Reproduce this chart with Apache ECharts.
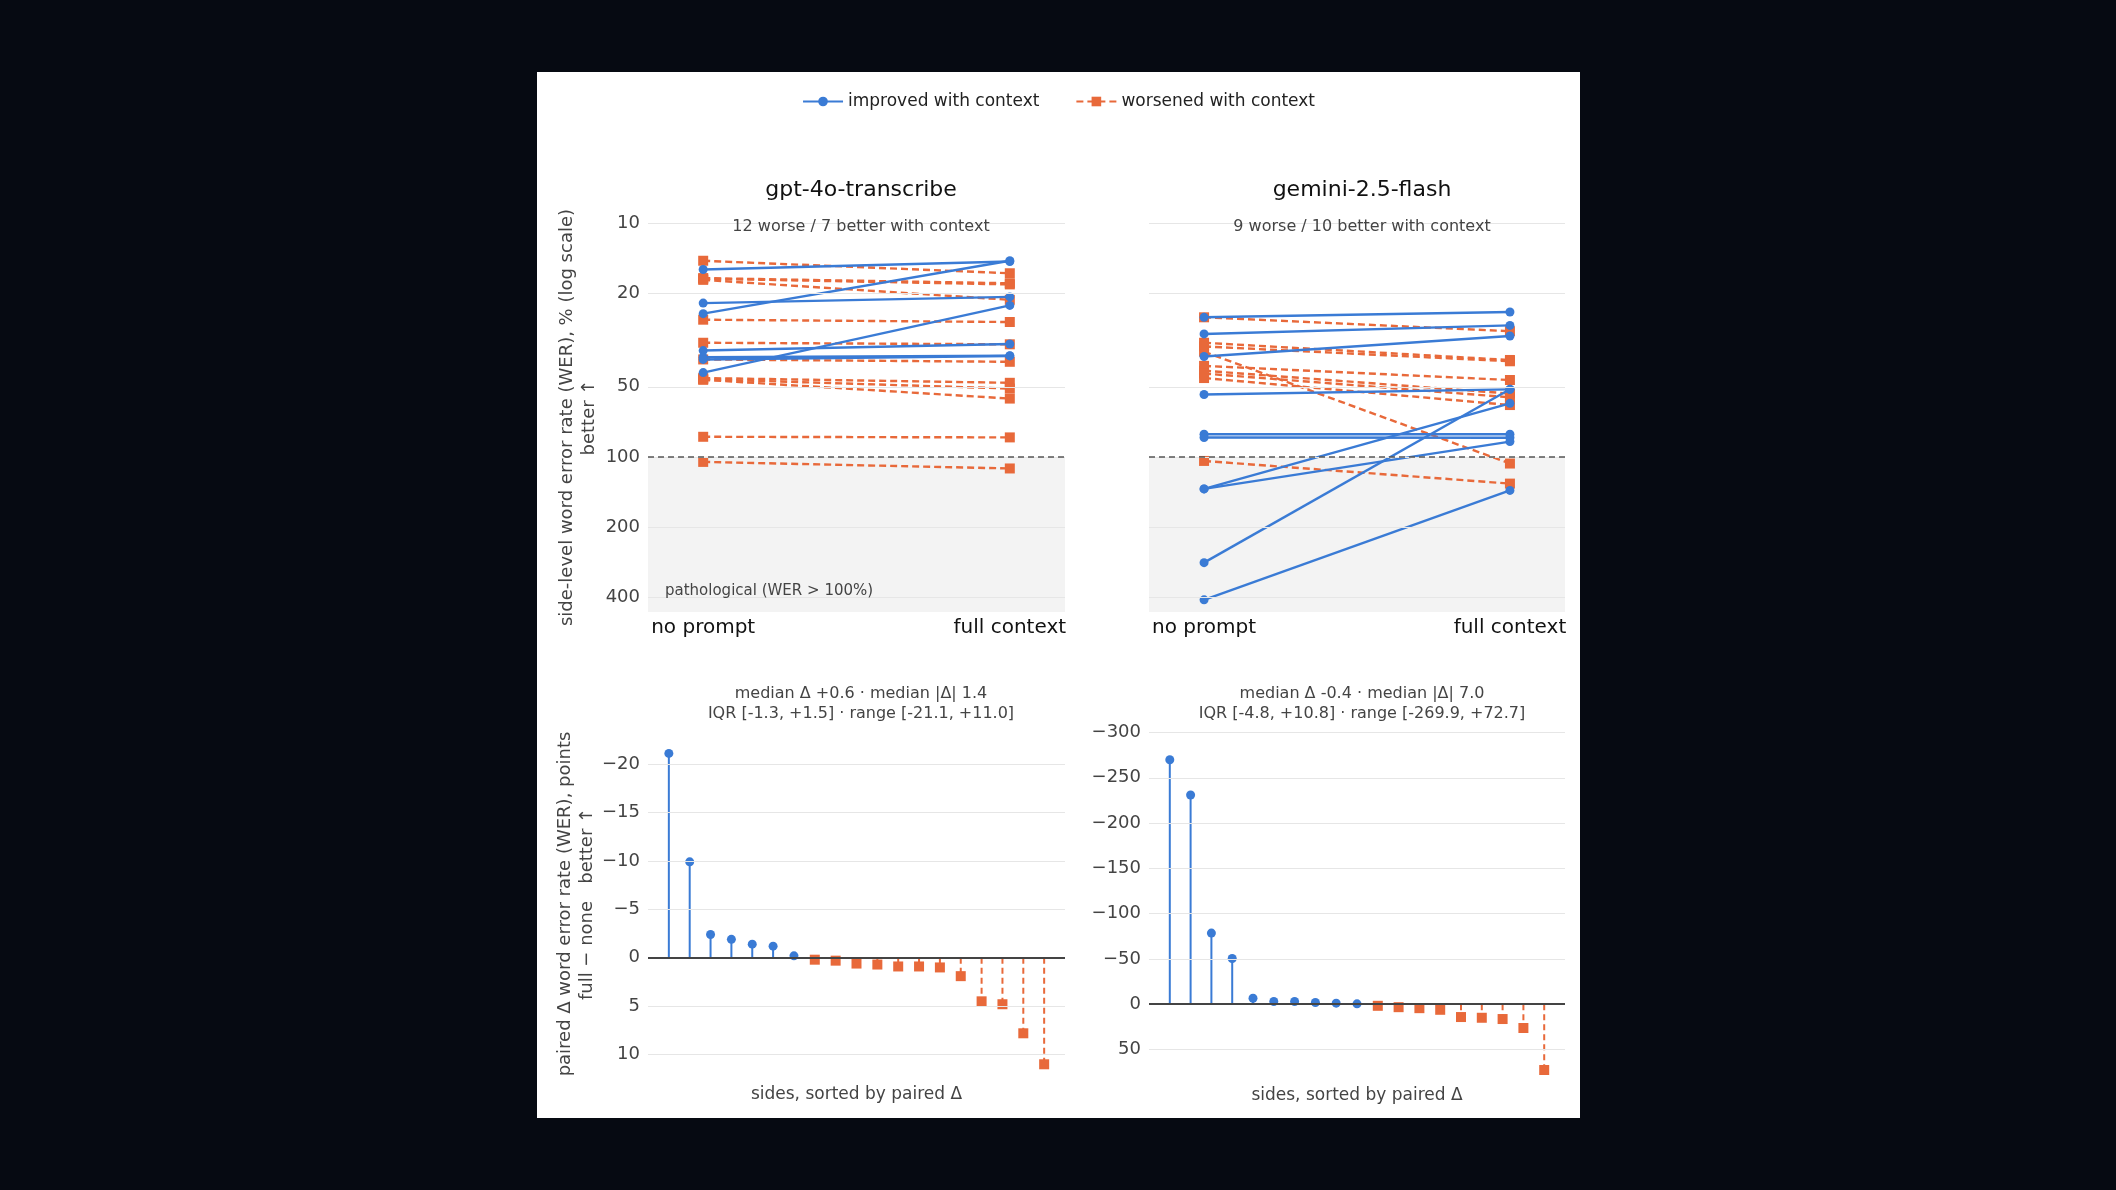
<!DOCTYPE html>
<html><head><meta charset="utf-8">
<script src="https://cdn.jsdelivr.net/npm/echarts@6/dist/echarts.min.js"></script>
<style>html,body{margin:0;background:#060a12;width:2116px;height:1190px;overflow:hidden}
#c{position:absolute;left:537px;top:72px;width:1043px;height:1046px;background:#fff}</style>
</head><body><div id="c"></div>
<script>
// ---- data ----
const gptImprovedNone = [15.8, 24.4, 22.0, 43.6, 35.1, 37.5, 38.3];
const gptImprovedFull = [14.6, 14.5, 20.7, 22.5, 32.9, 36.9, 37.0];
const gptWorsenedNone = [14.5, 17.2, 17.3, 17.5, 25.9, 32.5, 38.3, 46.0, 46.5, 46.8, 82.0, 105];
const gptWorsenedFull = [16.4, 18.1, 18.3, 21.3, 26.5, 33.0, 39.2, 48.2, 51.0, 56.3, 82.5, 112];
const gemImprovedNone = [25.3, 29.8, 37.2, 54.1, 80.0, 82.6, 137, 137, 283, 408];
const gemImprovedFull = [24.0, 27.4, 30.4, 51.4, 80.0, 82.8, 59.0, 86.0, 51.4, 139];
const gemWorsenedNone = [25.3, 32.5, 33.7, 35.5, 40.8, 42.8, 44.0, 46.0, 104];
const gemWorsenedFull = [29.0, 38.5, 39.0, 106.7, 46.9, 53.6, 55.6, 60.0, 130];
const gptDelta = [-21.1, -9.9, -2.4, -1.9, -1.4, -1.2, -0.2, 0.2, 0.3, 0.6, 0.7, 0.9, 0.9, 1.0, 1.9, 4.5, 4.8, 7.8, 11.0];
const gemDelta = [-269.9, -231, -78.5, -50.4, -6.6, -2.9, -2.9, -1.8, -1.1, -0.4, 1.8, 3.3, 4.4, 6.2, 14.2, 15.0, 16.4, 26.3, 72.7];
const conditions = ['no prompt', 'full context'];
const werTicks = [10, 20, 50, 100, 200, 400];
const gptDeltaTicks = [-20, -15, -10, -5, 0, 5, 10];
const gemDeltaTicks = [-300, -250, -200, -150, -100, -50, 0, 50];
const panelTitles = ['gpt-4o-transcribe', 'gemini-2.5-flash'];
const subtitles = ['12 worse / 7 better with context', '9 worse / 10 better with context'];
const statLines = [
  ['median Δ +0.6 · median |Δ| 1.4', 'IQR [-1.3, +1.5] · range [-21.1, +11.0]'],
  ['median Δ -0.4 · median |Δ| 7.0', 'IQR [-4.8, +10.8] · range [-269.9, +72.7]']
];
// ---- chart ----
const BLUE = '#3a7bd5', ORANGE = '#e8693a', F = 'DejaVu Sans';
const L = Math.log10;
const minus = v => (v < 0 ? '\u2212' + Math.abs(v) : String(v));
const grids = [
  {left:111, top:151, width:417, height:389},
  {left:612, top:151, width:416, height:389},
  {left:111, top:663, width:417, height:338},
  {left:612, top:656, width:416, height:345}
];
const xAxes = [0,1].map(i => ({gridIndex:i, type:'value', min:-0.18, max:1.18,
  axisLine:{show:false}, axisTick:{show:false}, splitLine:{show:false},
  axisLabel:{customValues:[0,1], formatter:v => conditions[Math.round(v)], color:'#111', fontSize:20, fontFamily:F, margin:6}
})).concat([2,3].map(i => ({gridIndex:i, type:'value', min:-1, max:19,
  axisLine:{show:false}, axisTick:{show:false}, splitLine:{show:false}, axisLabel:{show:false},
  name:'sides, sorted by paired Δ', nameLocation:'middle', nameGap:i===2?13:14,
  nameTextStyle:{color:'#444', fontSize:17, fontFamily:F}
})));
const yAxes = [
  {gridIndex:0, type:'value', inverse:true, min:1, max:L(460),
   axisLabel:{customValues:werTicks.map(L), formatter:v => String(Math.round(Math.pow(10,v))), color:'#444', fontSize:18, fontFamily:F, margin:8},
   axisLine:{show:false}, axisTick:{show:false}, splitLine:{show:false},
   name:'side-level word error rate (WER), % (log scale)\nbetter ↑', nameLocation:'middle', nameGap:48, nameRotate:90,
   nameTextStyle:{color:'#444', fontSize:18, fontFamily:F, lineHeight:22}},
  {gridIndex:1, type:'value', inverse:true, min:1, max:L(460), axisLabel:{show:false},
   axisLine:{show:false}, axisTick:{show:false}, splitLine:{show:false}},
  {gridIndex:2, type:'value', inverse:true, min:-23, max:11.9,
   axisLabel:{customValues:gptDeltaTicks, formatter:minus, color:'#444', fontSize:18, fontFamily:F, margin:8},
   axisLine:{show:false}, axisTick:{show:false}, splitLine:{show:false},
   name:'paired Δ word error rate (WER), points\nfull − none   better ↑', nameLocation:'middle', nameGap:48, nameRotate:90,
   nameTextStyle:{color:'#444', fontSize:18, fontFamily:F, lineHeight:22}},
  {gridIndex:3, type:'value', inverse:true, min:-305, max:76,
   axisLabel:{customValues:gemDeltaTicks, formatter:minus, color:'#444', fontSize:18, fontFamily:F, margin:8},
   axisLine:{show:false}, axisTick:{show:false}, splitLine:{show:false}}
];
const series = [];
const grid = '#e6e6e6';
function gridSeries(i, vals, extra) {
  series.push({type:'line', xAxisIndex:i, yAxisIndex:i, data:[], silent:true,
    markLine:{silent:true, symbol:'none', label:{show:false}, lineStyle:{color:grid, type:'solid', width:1.2},
      data:vals.map(v => ({yAxis:v})).concat(extra||[])},
    markArea: i<2 ? {silent:true, itemStyle:{color:'#f3f3f3'}, data:[[{yAxis:2},{yAxis:L(460)}]]} : undefined
  });
}
gridSeries(0, werTicks.map(L), [{yAxis:2, lineStyle:{color:'#555', type:[6,4], width:1.5}}]);
gridSeries(1, werTicks.map(L), [{yAxis:2, lineStyle:{color:'#555', type:[6,4], width:1.5}}]);
gridSeries(2, gptDeltaTicks.filter(v=>v!==0), [{yAxis:0, lineStyle:{color:'#444', width:1.8}}]);
gridSeries(3, gemDeltaTicks.filter(v=>v!==0), [{yAxis:0, lineStyle:{color:'#444', width:1.8}}]);
function slopes(i, a, b, improved) {
  a.forEach((v, k) => series.push({type:'line', xAxisIndex:i, yAxisIndex:i,
    name: improved ? 'improved with context' : 'worsened with context',
    data:[[0, L(v)], [1, L(b[k])]], symbol: improved ? 'circle' : 'rect', symbolSize: improved ? 9 : 10,
    itemStyle:{color: improved ? BLUE : ORANGE},
    lineStyle:{color: improved ? BLUE : ORANGE, width:2.4, type: improved ? 'solid' : [7,4]},
    z: improved ? 4 : 3, animation:false}));
}
slopes(0, gptImprovedNone, gptImprovedFull, true);
slopes(0, gptWorsenedNone, gptWorsenedFull, false);
slopes(1, gemWorsenedNone, gemWorsenedFull, false);
slopes(1, gemImprovedNone, gemImprovedFull, true);
function lolli(i, d) {
  series.push({type:'custom', xAxisIndex:i, yAxisIndex:i, data:d.map((v,k)=>[k,v]), animation:false,
    renderItem:(p, api) => {
      const x = api.value(0), v = api.value(1), good = v < 0;
      const p0 = api.coord([x, 0]), p1 = api.coord([x, v]);
      const c = good ? BLUE : ORANGE;
      const kids = [{type:'line', shape:{x1:p0[0], y1:p0[1], x2:p1[0], y2:p1[1]},
        style:{stroke:c, lineWidth:2, lineDash: good ? null : [6,4]}}];
      kids.push(good ? {type:'circle', shape:{cx:p1[0], cy:p1[1], r:4.5}, style:{fill:c}}
                     : {type:'rect', shape:{x:p1[0]-5, y:p1[1]-5, width:10, height:10}, style:{fill:c}});
      return {type:'group', children:kids};
    }});
}
lolli(2, gptDelta);
lolli(3, gemDelta);
const titles = [
  {text:panelTitles[0], left:319, top:102, textAlign:'center', textStyle:{fontSize:22, fontWeight:'normal', color:'#111', fontFamily:F}},
  {text:panelTitles[1], left:820, top:102, textAlign:'center', textStyle:{fontSize:22, fontWeight:'normal', color:'#111', fontFamily:F}},
  {text:subtitles[0], left:319, top:142, textAlign:'center', textStyle:{fontSize:16, fontWeight:'normal', color:'#444', fontFamily:F}},
  {text:subtitles[1], left:820, top:142, textAlign:'center', textStyle:{fontSize:16, fontWeight:'normal', color:'#444', fontFamily:F}},
  {text:statLines[0].join('\n'), left:319, top:607, textAlign:'center', textStyle:{fontSize:16, fontWeight:'normal', color:'#444', fontFamily:F, lineHeight:20}},
  {text:statLines[1].join('\n'), left:820, top:607, textAlign:'center', textStyle:{fontSize:16, fontWeight:'normal', color:'#444', fontFamily:F, lineHeight:20}},
  {text:'pathological (WER > 100%)', left:123, top:507, textStyle:{fontSize:15, fontWeight:'normal', color:'#444', fontFamily:F}}
];
const chart = echarts.init(document.getElementById('c'));
chart.setOption({
  animation:false, backgroundColor:'#fff',
  title:titles,
  legend:{top:16, left:'center', itemWidth:40, itemHeight:12, itemGap:36,
    textStyle:{fontSize:17, color:'#222', fontFamily:F},
    data:['improved with context', 'worsened with context']},
  grid:grids, xAxis:xAxes, yAxis:yAxes, series:series
});
</script></body></html>
